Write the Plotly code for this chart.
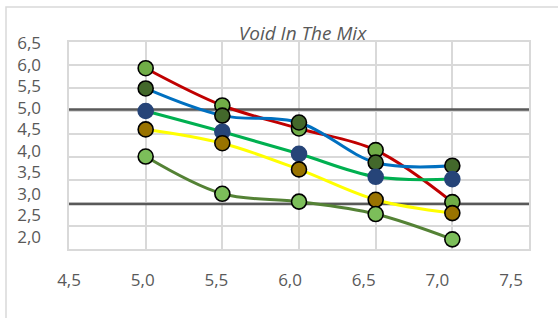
import plotly.graph_objects as go

# ---- data ----
x_vals = [5.0, 5.5, 6.0, 6.5, 7.0]
red_series = [5.93, 5.12, 4.62, 4.15, 3.02]
blue_series = [5.49, 4.90, 4.75, 3.88, 3.81]
green_series = [5.00, 4.55, 4.07, 3.57, 3.52]
yellow_series = [4.60, 4.30, 3.73, 3.07, 2.78]
olive_series = [4.01, 3.20, 3.03, 2.76, 2.21]
limit_values = [5.03, 2.98]
limit_x = [4.5, 7.5]

x_tick_vals = [4.5, 5.0, 5.5, 6.0, 6.5, 7.0, 7.5]
x_tick_text = ["4,5", "5,0", "5,5", "6,0", "6,5", "7,0", "7,5"]
y_tick_vals = [2.0, 2.5, 3.0, 3.5, 4.0, 4.5, 5.0, 5.5, 6.0, 6.5]
y_tick_text = ["2,0", "2,5", "3,0", "3,5", "4,0", "4,5", "5,0", "5,5", "6,0", "6,5"]

title_text = "Void In The Mix"

# ---- styles ----
FONT = "Open Sans"
TXT = "#595959"
GRID = "#D9D9D9"

series = [
    (red_series, "#C00000", "#70AD47", "black"),
    (blue_series, "#0070C0", "#43682B", "black"),
    (green_series, "#00B050", "#264478", "#264478"),
    (yellow_series, "#FFFF00", "#997300", "black"),
    (olive_series, "#548235", "#7CBE5A", "black"),
]

fig = go.Figure()

for v in limit_values:
    fig.add_trace(go.Scatter(
        x=limit_x, y=[v, v], mode="lines",
        line=dict(color="#595959", width=2.5),
        showlegend=False, hoverinfo="skip",
    ))

for ys, lc, mc, mlc in series:
    fig.add_trace(go.Scatter(
        x=x_vals, y=ys, mode="lines+markers",
        line=dict(color=lc, width=3, shape="spline", smoothing=1.0),
        marker=dict(size=15, color=mc, line=dict(color=mlc, width=1.6)),
        showlegend=False, cliponaxis=False,
    ))

# dummy trace to attach the label-only overlay axes
fig.add_trace(go.Scatter(x=[None], y=[None], xaxis="x2", yaxis="y2",
                         showlegend=False, hoverinfo="skip"))

W, H = 558, 318
L, R, T, B = 69, 29, 42, 69
pw, ph = W - L - R, H - T - B

def px2x(px):
    return (px - L) / pw

# label axes: tick labels sit on a slightly different scale than the grid
x_px_per_unit = (510 - 68) / 3.0
x2_lo = 4.4995
x2_hi = x2_lo + pw / x_px_per_unit
y_px_per_unit = (237 - 43.2) / 4.5
y2_lo = 2.0 - (H - B - 237) / y_px_per_unit
y2_hi = 6.5 + (43.2 - T) / y_px_per_unit

fig.update_layout(
    width=W, height=H,
    margin=dict(l=L, r=R, t=T, b=B, autoexpand=False),
    paper_bgcolor="white", plot_bgcolor="white",
    showlegend=False,
    title=dict(text=title_text, x=px2x(302.5), xref="paper", xanchor="center",
               y=1 - 33 / H, yref="container", yanchor="middle",
               font=dict(family=FONT, size=19, color=TXT, style="italic")),
    xaxis=dict(range=[4.5, 7.5], tick0=4.5, dtick=0.5, showgrid=True,
               gridcolor=GRID, gridwidth=2, showticklabels=False,
               showline=True, linecolor=GRID, linewidth=2, mirror=True,
               zeroline=False, ticks=""),
    yaxis=dict(range=[2.0, 6.5], tick0=2.0, dtick=0.5, showgrid=True,
               gridcolor=GRID, gridwidth=2, showticklabels=False,
               showline=True, linecolor=GRID, linewidth=2, mirror=True,
               zeroline=False, ticks=""),
    xaxis2=dict(overlaying="x", anchor="y2", side="bottom",
                range=[x2_lo, x2_hi],
                tickmode="array", tickvals=x_tick_vals, ticktext=x_tick_text,
                showgrid=False, zeroline=False, showline=False, ticks="",
                ticklabelstandoff=19,
                tickfont=dict(family=FONT, size=17, color=TXT)),
    yaxis2=dict(overlaying="y", anchor="x2", side="left",
                range=[y2_lo, y2_hi],
                tickmode="array", tickvals=y_tick_vals, ticktext=y_tick_text,
                showgrid=False, zeroline=False, showline=False, ticks="",
                ticklabelstandoff=27,
                tickfont=dict(family=FONT, size=17, color=TXT)),
    shapes=[dict(type="rect", xref="paper", yref="paper",
                 x0=px2x(6), x1=px2x(600), y0=(H - B - 360) / ph, y1=(H - B - 7) / ph,
                 line=dict(color=GRID, width=1.5), fillcolor="rgba(0,0,0,0)",
                 layer="below")],
)

fig.write_html("out.html", config={"displayModeBar": False},
               post_script="document.body.style.margin='0px';")
